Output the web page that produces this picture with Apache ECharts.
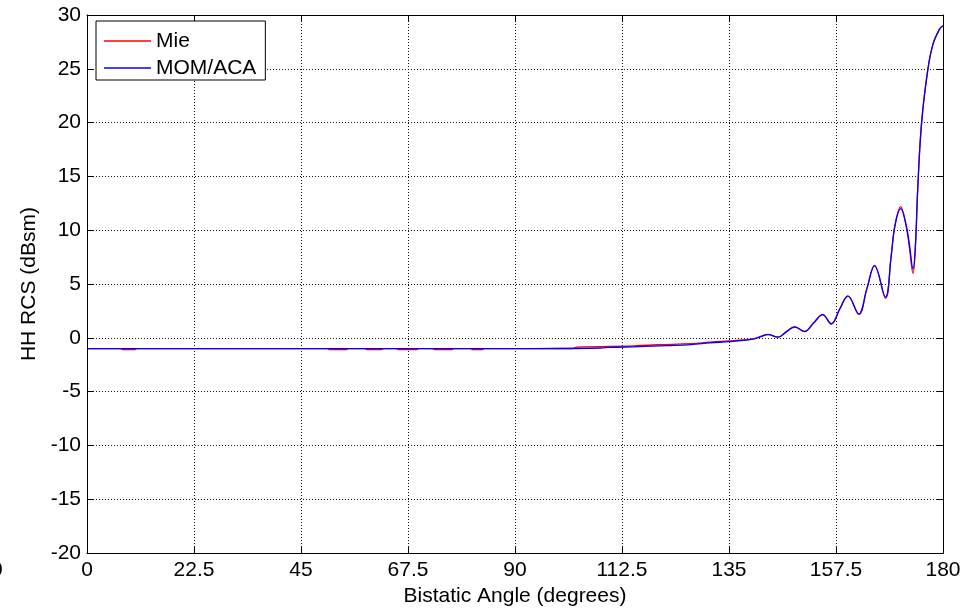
<!DOCTYPE html>
<html>
<head>
<meta charset="utf-8">
<script src="https://cdn.jsdelivr.net/npm/echarts@6/dist/echarts.min.js"></script>
<style>
  html, body { margin: 0; padding: 0; background: #fff; }
  #chart { width: 965px; height: 612px; }
</style>
</head>
<body>
<div id="chart"></div>
<script>
// bistatic angle (deg) and HH RCS (dBsm)
const momAngles = [0, 30, 60, 90, 100, 108, 110, 116, 122, 127, 131, 135, 138, 140.5, 141.8, 143.2, 145.3, 147, 148.8, 150.9, 152.8, 154.7, 156.5, 158.3, 160, 162.3, 164, 165.6, 167.9, 169.1, 169.9, 171.1, 172.2, 172.9, 173.7, 174.2, 174.7, 175.5, 176.8, 177.9, 179.3, 180];
const momValues = [-1.0, -1.0, -1.0, -1.0, -0.99, -0.94, -0.88, -0.82, -0.72, -0.62, -0.47, -0.35, -0.24, -0.07, 0.13, 0.3, 0.06, 0.53, 1.0, 0.6, 1.38, 2.14, 1.31, 2.68, 3.87, 2.23, 4.58, 6.69, 3.78, 7.6, 10.4, 12.0, 10.6, 8.8, 6.4, 8.6, 14.0, 20.0, 24.9, 27.3, 28.7, 29.0];

const mieAngles = [0, 7, 7.6, 9.9, 10.5, 50.5, 51.1, 54.4, 55, 58.4, 59, 61.8, 62.4, 65, 65.6, 69.2, 69.8, 72.6, 73.2, 76.6, 77.2, 80.6, 81.2, 83, 83.6, 102, 103, 115, 120, 127, 131, 135, 138, 140.5, 141.8, 143.2, 145.3, 147, 148.8, 150.9, 152.8, 154.7, 156.5, 158.3, 160, 162.3, 164, 165.6, 167.9, 169.1, 169.9, 171.1, 172.2, 172.9, 173.7, 174.2, 174.7, 175.5, 176.8, 177.9, 179.3, 180];
const mieValues = [-1.0, -1.0, -1.09, -1.09, -1.0, -1.0, -1.09, -1.09, -1.0, -1.0, -1.09, -1.09, -1.0, -1.0, -1.09, -1.09, -1.0, -1.0, -1.09, -1.09, -1.0, -1.0, -1.09, -1.09, -1.0, -0.99, -0.86, -0.74, -0.64, -0.54, -0.4, -0.29, -0.2, -0.04, 0.16, 0.33, 0.06, 0.56, 1.04, 0.58, 1.4, 2.18, 1.28, 2.7, 3.91, 2.18, 4.6, 6.74, 3.68, 7.6, 10.5, 12.2, 10.5, 8.5, 6.0, 8.5, 14.0, 20.0, 24.9, 27.3, 28.7, 29.0];

const xTicks = { min: 0, max: 180, interval: 22.5 };
const yTicks = { min: -20, max: 30, interval: 5 };

const FONT = "'Liberation Sans', Arial, sans-serif";
const chart = echarts.init(document.getElementById('chart'), null, { renderer: 'canvas' });

const gridLine = { show: true, lineStyle: { color: '#111', width: 1, type: [1, 2] } };
const axisLine = { show: true, onZero: false, lineStyle: { color: '#000', width: 1 } };
const tick = { show: true, inside: true, length: 6, lineStyle: { color: '#000' } };

const option = {
  animation: false,
  backgroundColor: '#fff',
  textStyle: { fontFamily: FONT },
  grid: { left: 87, right: 22, top: 15, bottom: 56, containLabel: false },
  legend: {
    orient: 'vertical',
    left: 96,
    top: 21,
    backgroundColor: '#fff',
    borderColor: '#000',
    borderWidth: 1,
    borderRadius: 0,
    padding: [9, 9, 1, 8],
    icon: 'rect',
    itemWidth: 47,
    itemHeight: 1.5,
    itemGap: 5,
    textStyle: { fontFamily: FONT, fontSize: 21, lineHeight: 22, color: '#000' },
    data: ['Mie', 'MOM/ACA']
  },
  xAxis: [
    {
      type: 'value', position: 'bottom',
      min: xTicks.min, max: xTicks.max, interval: xTicks.interval,
      name: 'Bistatic Angle (degrees)', nameLocation: 'middle', nameGap: 22,
      nameTextStyle: { fontFamily: FONT, fontSize: 21, color: '#000' },
      axisLine: axisLine, axisTick: tick, splitLine: gridLine,
      axisLabel: { fontFamily: FONT, fontSize: 21, color: '#000', margin: 7 }
    },
    {
      type: 'value', position: 'top',
      min: xTicks.min, max: xTicks.max, interval: xTicks.interval,
      axisLine: axisLine, axisTick: tick, splitLine: { show: false },
      axisLabel: { show: false }
    }
  ],
  yAxis: [
    {
      type: 'value', position: 'left',
      min: yTicks.min, max: yTicks.max, interval: yTicks.interval,
      name: 'HH RCS (dBsm)', nameLocation: 'middle', nameGap: 43,
      nameTextStyle: { fontFamily: FONT, fontSize: 21, color: '#000' },
      axisLine: axisLine, axisTick: tick, splitLine: gridLine,
      axisLabel: { fontFamily: FONT, fontSize: 21, color: '#000', margin: 6 }
    },
    {
      type: 'value', position: 'right',
      min: yTicks.min, max: yTicks.max, interval: yTicks.interval,
      axisLine: axisLine, axisTick: tick, splitLine: { show: false },
      axisLabel: { show: false }
    }
  ],
  graphic: [
    // clipped tick label at the far left edge of the figure
    { type: 'text', left: -9, top: 560, style: { text: '0', font: '21px ' + FONT, fill: '#000' } }
  ],
  series: [
    {
      name: 'Mie', type: 'line', symbol: 'none', smooth: 0.4, clip: true,
      lineStyle: { color: '#ff0000', width: 1.3 }, itemStyle: { color: '#ff0000' },
      data: mieAngles.map((a, i) => [a, mieValues[i]])
    },
    {
      name: 'MOM/ACA', type: 'line', symbol: 'none', smooth: 0.4, clip: true,
      lineStyle: { color: '#0000ff', width: 1.3 }, itemStyle: { color: '#0000ff' },
      data: momAngles.map((a, i) => [a, momValues[i]])
    }
  ]
};

chart.setOption(option);
</script>
</body>
</html>
